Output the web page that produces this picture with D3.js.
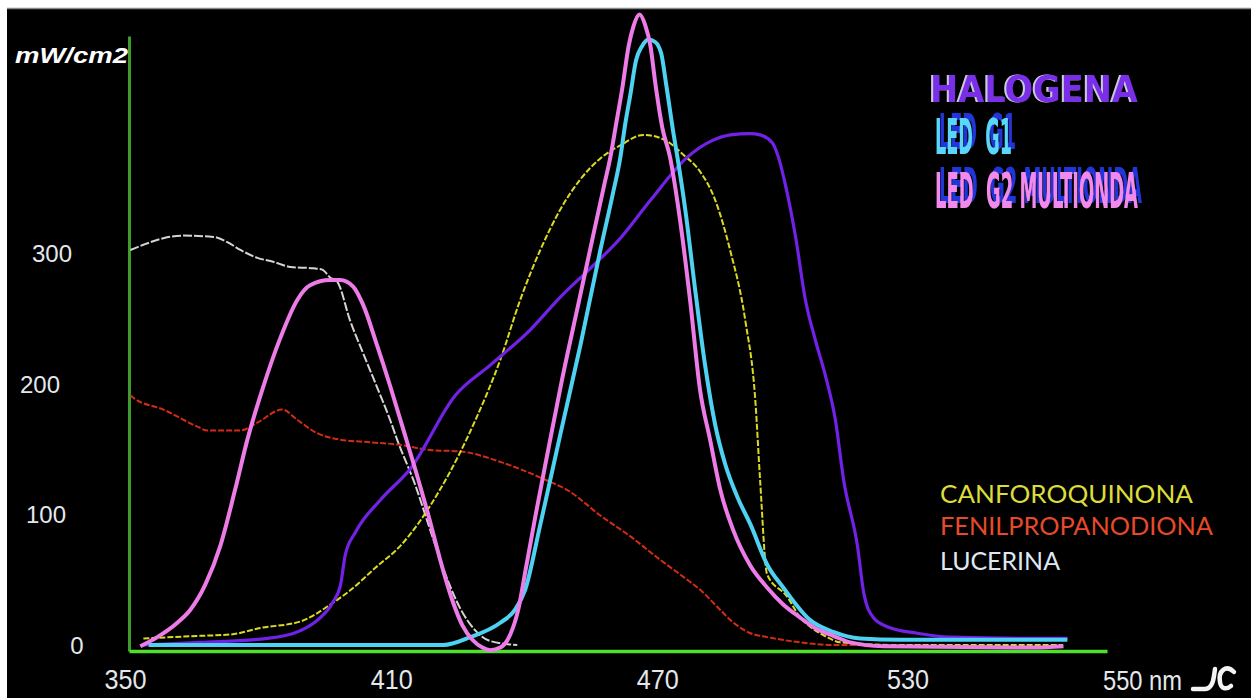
<!DOCTYPE html>
<html><head><meta charset="utf-8">
<script src="https://cdn.jsdelivr.net/npm/d3@7"></script>
<style>html,body{margin:0;padding:0;background:#fff;overflow:hidden}</style>
</head><body>
<svg id="chart" width="1251" height="698"></svg>
<script>
// ---------- data (wavelength nm, mW/cm2) ----------
const xTicks = [350, 410, 470, 530];
const yTicks = [0, 100, 200, 300];
const yTitle = "mW/cm2";
const xUnitLabel = "550 nm";

const lucerina = [[350.3,302],[353.3,306],[357.9,311],[362.5,313],[369.4,312],[372.6,308],[375.6,302],[379.5,296],[383.1,293],[387.1,289],[392.3,288],[394.4,287],[396.2,281],[397.8,278],[400.8,248],[403.8,223],[407.0,197],[410.0,172],[411.6,157],[415.8,122],[419.2,88],[422.7,54],[426.1,28],[429.6,11],[433.0,3],[439.2,0]];
const fenilpropanodiona = [[350.3,191],[351.0,189],[357.9,180],[365.7,167],[368.0,164],[375.6,164],[379.5,170],[385.2,180],[388.7,172],[393.2,162],[398.5,157],[405.4,155],[412.3,153],[419.2,149],[426.1,148],[435.3,140],[444.5,128],[451.4,117],[458.3,99],[465.2,83],[472.1,65],[477.8,51],[481.3,42],[485.2,29],[488.9,17],[492.8,9],[496.7,6],[504.3,2],[511.9,0],[518.1,0]];
const canforoquinona = [[353.3,5],[366.4,7],[373.3,8],[380.2,13],[389.4,18],[396.3,31],[400.9,42],[406.6,59],[412.4,76],[421.5,119],[429.6,172],[435.3,218],[439.9,264],[444.5,302],[449.1,333],[453.7,356],[458.3,372],[462.9,382],[468.2,390],[473.2,386],[477.3,375],[481.2,362],[484.7,340],[488.1,302],[491.6,248],[493.9,187],[495.0,126],[496.6,54],[501.2,37],[504.2,21],[506.5,14],[510.4,6],[513.4,2],[527.2,0],[564.6,0]];
const halogena = [[353.3,0],[366.4,2],[381.8,5],[389.4,11],[393.3,19],[396.9,33],[398.6,46],[399.7,69],[402.0,86],[407.8,111],[414.7,135],[425.0,191],[433.0,214],[442.2,241],[449.1,266],[456.0,288],[462.9,311],[469.8,340],[478.3,373],[483.6,385],[488.2,390],[492.7,391],[495.0,390],[497.8,384],[499.2,373],[500.8,352],[503.1,313],[505.4,264],[507.7,233],[510.0,206],[512.3,172],[514.2,126],[517.4,75],[518.8,40],[521.0,21],[524.2,14],[531.1,9],[538.7,6],[557.8,5],[565.6,5]];
const ledG1 = [[354.5,0],[422.2,0],[428.4,6],[435.3,17],[438.7,27],[441.0,42],[444.5,92],[449.1,161],[453.7,229],[458.3,302],[461.1,344],[462.9,373],[464.0,398],[465.2,421],[466.5,447],[467.9,458],[469.3,463],[470.9,461],[472.3,452],[473.4,429],[475.1,391],[476.0,373],[477.8,333],[480.1,271],[482.4,213],[484.7,168],[487.0,138],[489.8,113],[492.8,92],[496.7,61],[500.3,44],[506.5,19],[511.8,10],[518.0,5],[527.2,4],[565.6,4]];
const ledG2 = [[352.6,-1],[356.5,6],[361.1,17],[364.1,27],[367.5,46],[371.0,76],[374.4,119],[377.2,157],[380.8,197],[384.8,235],[388.7,264],[391.6,275],[396.2,279],[398.5,279],[401.5,274],[403.8,260],[407.0,229],[410.0,198],[413.0,165],[415.8,134],[418.8,99],[421.5,65],[424.3,34],[426.6,15],[428.9,4],[431.2,-2],[433.0,-4],[435.3,-2],[437.6,8],[439.5,28],[441.1,57],[443.4,99],[446.3,149],[449.5,203],[453.2,260],[456.9,317],[459.2,352],[460.6,373],[461.8,396],[463.4,427],[464.8,458],[465.9,473],[467.3,482],[468.6,474],[469.8,458],[470.9,430],[472.5,396],[474.3,373],[476.6,325],[478.9,264],[481.2,195],[483.5,157],[485.9,118],[488.8,88],[492.7,61],[496.6,44],[500.3,31],[504.2,21],[508.1,12],[511.8,7],[515.7,2],[523.3,-1],[557.8,-2],[564.7,-1]];

const lampNames = ["HALOGENA", "LED\u00a0\u00a0G1", "LED\u00a0\u00a0G2 MULTIONDA"];
const initiatorNames = ["CANFOROQUINONA", "FENILPROPANODIONA", "LUCERINA"];

// ---------- layout / style ----------
const W = 1251, H = 698;
const svg = d3.select("#chart");
const defs = svg.append("defs");
function shadowFilter(id, color, dx, dy) {
  const f = defs.append("filter").attr("id", id).attr("x", "-10%").attr("y", "-30%").attr("width", "120%").attr("height", "160%");
  f.append("feFlood").attr("flood-color", color).attr("result", "c");
  f.append("feComposite").attr("in", "c").attr("in2", "SourceAlpha").attr("operator", "in").attr("result", "s");
  f.append("feOffset").attr("in", "s").attr("dx", dx).attr("dy", dy).attr("result", "o");
  const m = f.append("feMerge");
  m.append("feMergeNode").attr("in", "o");
  m.append("feMergeNode").attr("in", "SourceGraphic");
}
shadowFilter("shBlue", "#2036d8", 4, -2);
shadowFilter("shGrey", "#c9c9d8", -2, 0);

svg.append("rect").attr("width", W).attr("height", H).attr("fill", "#ffffff");
svg.append("rect").attr("x", 7).attr("y", 9).attr("width", W - 7).attr("height", H - 9).attr("fill", "#000");
svg.append("line").attr("x1", 7).attr("x2", W).attr("y1", 8.5).attr("y2", 8.5).attr("stroke", "#8a8a8a").attr("stroke-width", 1.5);

const x = d3.scaleLinear().domain([350, 574.7]).range([129, 1107]);
const y = d3.scaleLinear().domain([-4.6, 465.6]).range([651, 36]);

const labelFont = "'Liberation Sans', Arial, sans-serif";
const labelColor = "#e4e8ec";

// y axis
const yAxisG = svg.append("g").attr("transform", `translate(${x(350)},0)`)
  .call(d3.axisLeft(y).tickValues(yTicks).tickSize(0).tickSizeOuter(0).tickFormat(d3.format("d")));
yAxisG.select(".domain").attr("stroke", "#3e9c2c").attr("stroke-width", 3);
const yLabelCenter = {0: 77, 100: 46, 200: 40, 300: 52};
yAxisG.selectAll(".tick text")
  .attr("x", d => yLabelCenter[d] - x(350)).attr("dy", "0.36em")
  .attr("text-anchor", "middle")
  .style("font-family", labelFont).style("font-size", "24px").attr("fill", labelColor);

// x axis
const xAxisG = svg.append("g").attr("transform", `translate(0,${y(-4.6)})`)
  .call(d3.axisBottom(x).tickValues(xTicks).tickSize(0).tickSizeOuter(0).tickFormat(d3.format("d")));
xAxisG.select(".domain").attr("stroke", "#4fe02c").attr("stroke-width", 3.5);
const xLabelDx = {350: -4, 410: 1, 470: 6, 530: -5};
xAxisG.selectAll(".tick text")
  .attr("y", 38).attr("dy", 0).attr("dx", d => xLabelDx[d])
  .attr("textLength", 42).attr("lengthAdjust", "spacingAndGlyphs")
  .style("font-family", labelFont).style("font-size", "28px").attr("fill", labelColor);

// unit labels
svg.append("text").attr("x", 1103).attr("y", 690).text(xUnitLabel)
  .attr("textLength", 79).attr("lengthAdjust", "spacingAndGlyphs")
  .style("font-family", labelFont).style("font-size", "28px").attr("fill", labelColor);
svg.append("path")
  .attr("d", "M1193,689 L1205,689 C1211,689 1213,683 1214,676 L1215,669 M1234,672 C1226,664 1218,671 1220,682 C1221,689 1226,690 1231,686")
  .attr("fill", "none").attr("stroke", "#f4f4f4").attr("stroke-width", 4.5).attr("stroke-linecap", "round");
svg.append("text").attr("x", 15).attr("y", 63).text(yTitle)
  .attr("textLength", 113).attr("lengthAdjust", "spacingAndGlyphs")
  .style("font-family", labelFont).style("font-size", "22px").style("font-weight", "bold").style("font-style", "italic")
  .attr("fill", "#ffffff");

// ---------- curves ----------
const line = d3.line().x(d => x(d[0])).y(d => y(d[1])).curve(d3.curveMonotoneX);
const series = [
  {data: lucerina, color: "#d4d4d4", width: 2, dash: "9,2"},
  {data: fenilpropanodiona, color: "#d42a18", width: 2, dash: "6,2"},
  {data: canforoquinona, color: "#dada22", width: 2, dash: "6,2"},
  {data: halogena, color: "#7222e6", width: 3.2, dash: null},
  {data: ledG1, color: "#4ed2f2", width: 4, dash: null},
  {data: ledG2, color: "#ee7ce8", width: 4, dash: null}
];
svg.append("g").selectAll("path").data(series).join("path")
  .attr("d", s => line(s.data))
  .attr("fill", "none")
  .attr("stroke", s => s.color)
  .attr("stroke-width", s => s.width)
  .attr("stroke-dasharray", s => s.dash)
  .attr("stroke-linejoin", "round");

// ---------- legends ----------
const lampStyle = [
  {x: 930, y: 102, cap: 27, len: 208, fill: "#7a2ee8", filter: "url(#shGrey)"},
  {x: 935, y: 154, cap: 36, len: 77, fill: "#5ad6fa", filter: "url(#shBlue)"},
  {x: 935, y: 208, cap: 36, len: 203, fill: "#f28aee", filter: "url(#shBlue)"}
];
const lg = svg.append("g");
lampNames.forEach((t, i) => {
  const s = lampStyle[i];
  const txt = lg.append("text").text(t)
    .attr("filter", s.filter)
    .style("font-family", "'DejaVu Sans Condensed','DejaVu Sans',sans-serif")
    .style("font-weight", "bold").style("font-size", "20px").attr("fill", s.fill);
  const w = txt.node().getComputedTextLength();
  const fs = 20 * s.len / w;
  const sy = s.cap / (0.73 * fs);
  txt.style("font-size", fs + "px")
    .attr("transform", `translate(${s.x},${s.y}) scale(1,${sy})`);
});

const initStyle = [
  {y: 503, len: 253, fill: "#dcdc3a"},
  {y: 535, len: 273, fill: "#e64a2a"},
  {y: 570, len: 120, fill: "#dfe8f2"}
];
initiatorNames.forEach((t, i) => {
  const s = initStyle[i];
  lg.append("text").attr("x", 940).attr("y", s.y).text(t)
    .attr("textLength", s.len).attr("lengthAdjust", "spacingAndGlyphs")
    .style("font-family", "Lato, 'Open Sans', sans-serif").style("font-size", "25px")
    .attr("fill", s.fill);
});
</script>
</body></html>
